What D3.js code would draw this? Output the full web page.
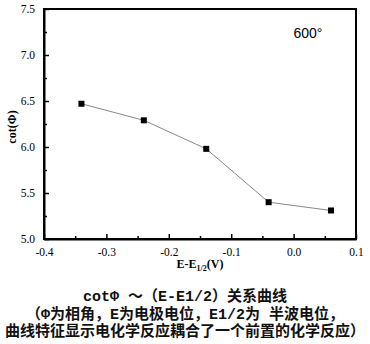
<!DOCTYPE html>
<html>
<head>
<meta charset="utf-8">
<script src="https://cdn.jsdelivr.net/npm/d3@7"></script>
<style>
  html, body { margin: 0; padding: 0; background: #fff; }
  svg { display: block; }
</style>
</head>
<body>
<svg id="chart" width="370" height="344"></svg>
<script>
// Potential offset E - E1/2 (V) and measured cot(Φ)
const potential = [-0.34, -0.24, -0.14, -0.04, 0.06];
const cotPhi = [6.47, 6.29, 5.98, 5.40, 5.31];
const xTicks = [-0.4, -0.3, -0.2, -0.1, 0.0, 0.1];
const yTicks = [5.0, 5.5, 6.0, 6.5, 7.0, 7.5];
const captionLines = [
  "cotΦ ～（E-E1/2）关系曲线",
  "（Φ为相角，E为电极电位，E1/2为 半波电位，",
  "曲线特征显示电化学反应耦合了一个前置的化学反应）"
];

const svg = d3.select("#chart");
const plot = { left: 44, right: 356, top: 9, bottom: 239 };

const x = d3.scaleLinear().domain([-0.4, 0.1]).range([plot.left, plot.right]);
const y = d3.scaleLinear().domain([5.0, 7.5]).range([plot.bottom, plot.top]);

const serif = "'Liberation Serif', 'DejaVu Serif', serif";
const fmt = d => d.toFixed(1);

// Frame
svg.append("rect")
  .attr("x", plot.left).attr("y", plot.top)
  .attr("width", plot.right - plot.left).attr("height", plot.bottom - plot.top)
  .attr("fill", "none").attr("stroke", "#000").attr("stroke-width", 2);

// Bottom axis: major ticks pointing inward, minor ticks between
const xAxis = d3.axisBottom(x).tickValues(xTicks).tickSizeInner(-5).tickSizeOuter(0)
  .tickPadding(9).tickFormat(fmt);
const gx = svg.append("g").attr("transform", `translate(0,${plot.bottom})`).call(xAxis);
gx.attr("font-family", serif).attr("font-size", 11.5);
gx.select(".domain").attr("stroke-width", 2);
gx.selectAll(".tick line").attr("stroke-width", 1.5);
gx.selectAll(".tick text").attr("fill", "#000");

const xMinor = d3.axisBottom(x).tickValues([-0.35, -0.25, -0.15, -0.05, 0.05])
  .tickSizeInner(-3).tickSizeOuter(0).tickFormat("");
const gxm = svg.append("g").attr("transform", `translate(0,${plot.bottom})`).call(xMinor);
gxm.select(".domain").remove();
gxm.selectAll(".tick line").attr("stroke-width", 1.5);

// Left axis
const yAxis = d3.axisLeft(y).tickValues(yTicks).tickSizeInner(-5).tickSizeOuter(0)
  .tickPadding(9).tickFormat(fmt);
const gy = svg.append("g").attr("transform", `translate(${plot.left},0)`).call(yAxis);
gy.attr("font-family", serif).attr("font-size", 11.5);
gy.select(".domain").attr("stroke-width", 2);
gy.selectAll(".tick line").attr("stroke-width", 1.5);
gy.selectAll(".tick text").attr("fill", "#000");

const yMinor = d3.axisLeft(y).tickValues([5.25, 5.75, 6.25, 6.75, 7.25])
  .tickSizeInner(-3).tickSizeOuter(0).tickFormat("");
const gym = svg.append("g").attr("transform", `translate(${plot.left},0)`).call(yMinor);
gym.select(".domain").remove();
gym.selectAll(".tick line").attr("stroke-width", 1.5);

// Data line and markers
const pts = potential.map((p, i) => [p, cotPhi[i]]);
svg.append("path")
  .datum(pts)
  .attr("fill", "none").attr("stroke", "#888").attr("stroke-width", 1)
  .attr("d", d3.line().x(d => x(d[0])).y(d => y(d[1])));

const ms = 6;
svg.selectAll("rect.pt").data(pts).enter().append("rect")
  .attr("class", "pt")
  .attr("x", d => x(d[0]) - ms / 2).attr("y", d => y(d[1]) - ms / 2)
  .attr("width", ms).attr("height", ms).attr("fill", "#000");

// Temperature annotation
svg.append("text")
  .attr("x", 308).attr("y", 38).attr("text-anchor", "middle")
  .attr("font-family", "'Liberation Sans', Arial, sans-serif").attr("font-size", 14)
  .text("600°");

// Axis titles
svg.append("text")
  .attr("transform", `translate(16,${(plot.top + plot.bottom) / 2 + 3}) rotate(-90)`)
  .attr("text-anchor", "middle")
  .attr("font-family", serif).attr("font-weight", "bold").attr("font-size", 12)
  .text("cot(Φ)");

const xt = svg.append("text")
  .attr("x", (plot.left + plot.right) / 2).attr("y", 268).attr("text-anchor", "middle")
  .attr("font-family", serif).attr("font-weight", "bold").attr("font-size", 12);
xt.append("tspan").text("E-E");
xt.append("tspan").attr("font-size", 8).attr("dy", 3).text("1/2");
xt.append("tspan").attr("dy", -3).text("(V)");

// Caption
const capFont = "'Liberation Mono', 'Noto Sans CJK SC', monospace";
svg.selectAll("text.cap").data(captionLines).enter().append("text")
  .attr("class", "cap")
  .attr("x", 185).attr("y", (d, i) => 301 + i * 17.5)
  .attr("text-anchor", "middle")
  .attr("font-family", capFont).attr("font-weight", "bold").attr("font-size", 15)
  .attr("fill", "#111")
  .text(d => d);
</script>
</body>
</html>
